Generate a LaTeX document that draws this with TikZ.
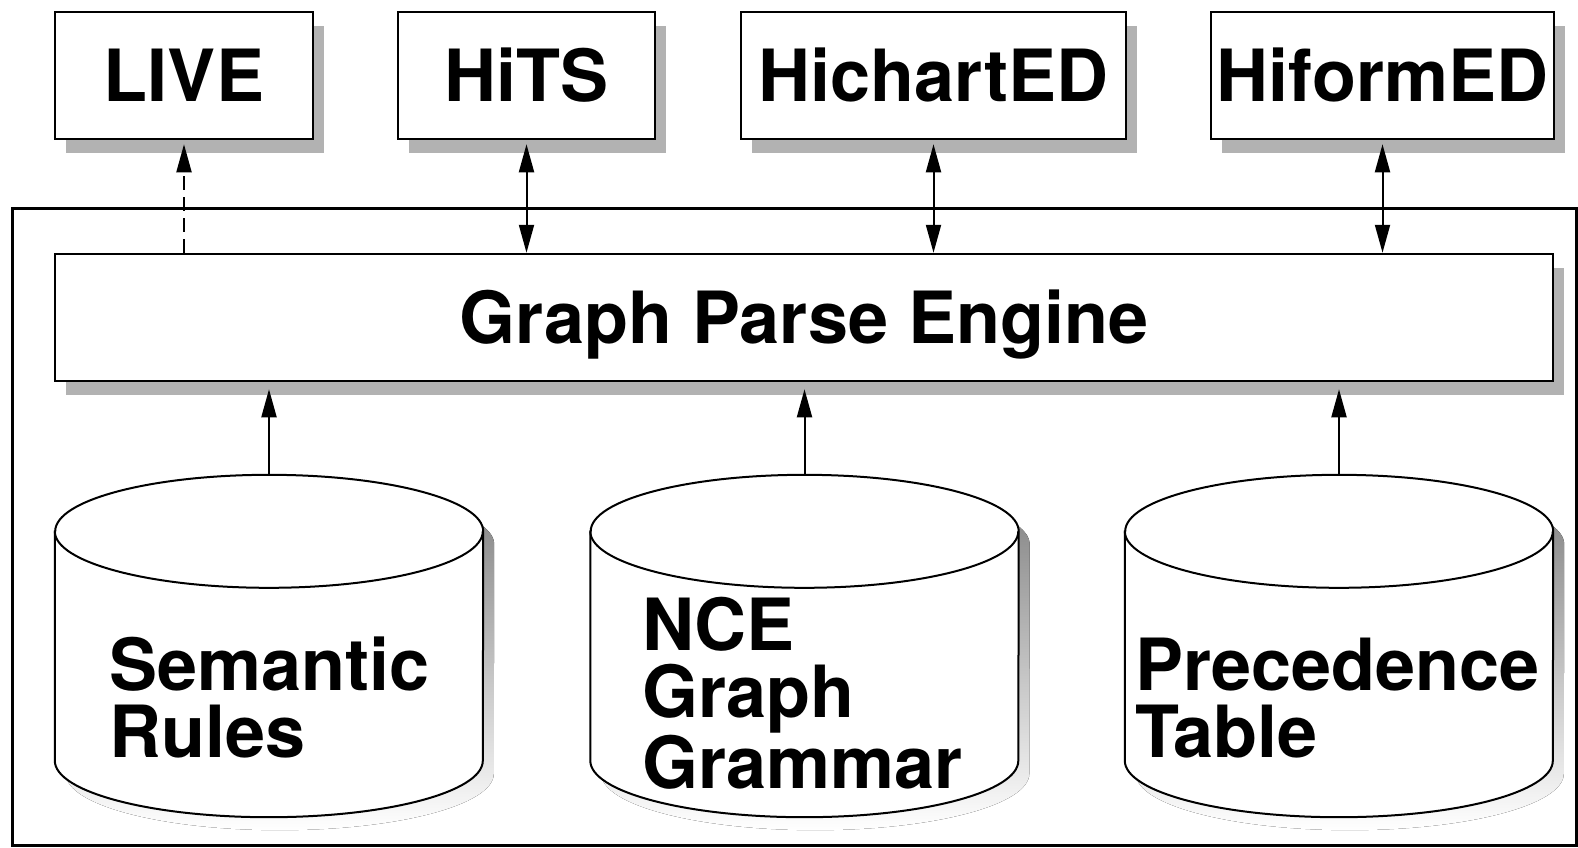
\documentclass[tikz,border=0pt]{standalone}
\usepackage{fontspec}
\setmainfont{TeX Gyre Heros}
\usetikzlibrary{arrows.meta,shadows,calc}
\definecolor{shade}{RGB}{178,178,178}

% outline of a drum (database cylinder) fitted to a named body node,
% optionally offset by (#2,#3)
\newcommand\drumpath[3]{($(#1.north west)+(#2,#3+56.5)$) -- ($(#1.south west)+(#2,#3-56.5)$)
  arc[start angle=180,end angle=360,x radius=214pt,y radius=56.5pt]
  -- ($(#1.north east)+(#2,#3+56.5)$)
  arc[start angle=0,end angle=180,x radius=214pt,y radius=56.5pt] -- cycle}
\newcommand\drumfront[1]{($(#1.north west)+(0,56.5)$)
  arc[start angle=180,end angle=360,x radius=214pt,y radius=56.5pt]}

\begin{document}
\begin{tikzpicture}[x=1pt,y=-1pt,
  lbl/.style={font=\fontsize{72}{67}\selectfont\bfseries},
  sbox/.style={draw, line width=2.5pt, fill=white, inner sep=0pt,
    minimum height=127pt, text height=51.7pt, text depth=0pt, lbl,
    drop shadow={shadow xshift=11pt, shadow yshift=-14pt, fill=shade, opacity=1}},
  link/.style={line width=2pt, -{Triangle[length=28pt,width=15pt]}},
  both/.style={line width=2pt, {Triangle[length=28pt,width=15pt]}-{Triangle[length=28pt,width=15pt]}},
  cylbody/.style={inner sep=0pt, minimum width=428pt, minimum height=342pt},
  cyltext/.style={lbl, align=left, anchor=base west, inner sep=0pt},
  drum/.style={fill=white, draw, line width=2pt}
]
\useasboundingbox (0,0) rectangle (1578,847);

% enclosing frame
\node[draw, line width=3pt, inner sep=0pt, minimum width=1564pt, minimum height=637pt]
  (frame) at (794,526.5) {};

% client tools
\node[sbox, minimum width=258pt] (live)    at (184,75.5)    {LIVE};
\node[sbox, minimum width=257pt] (hits)    at (526.5,75.5)  {HiTS};
\node[sbox, minimum width=385pt] (hichart) at (933.5,75.5)  {HichartED};
\node[sbox, minimum width=343pt] (hiform)  at (1382.5,75.5) {HiformED};

% parser
\node[sbox, minimum width=1498pt] (gpe) at (804,317.5) {Graph Parse Engine};

% data stores
\node[cylbody] (sem)  at (269,646)    {};
\node[cylbody] (nce)  at (804.5,646)  {};
\node[cylbody] (prec) at (1339,646)   {};

\foreach \d in {sem,nce,prec}{
  \fill[shade] \drumpath{\d}{11}{13};
  \path[drum] \drumpath{\d}{0}{0};
  \draw[line width=2pt] \drumfront{\d};
}

% base anchor sits on the last line of a multi-line label
\node[cyltext] (semtxt)  at (109,757)  {Semantic\\Rules};
\node[cyltext] (ncetxt)  at (642,788)  {NCE\\Graph\\Grammar};
\node[cyltext] (prectxt) at (1135,757) {Precedence\\Table};

% connectors
\draw[link, dash pattern=on 14pt off 7pt, shorten >=4pt] (gpe.north -| live.south) -- (live.south);
\draw[both, shorten <=4pt] (hits.south) -- (gpe.north -| hits.south);
\draw[both, shorten <=4pt] (hichart.south) -- (gpe.north -| hichart.south);
\draw[both, shorten <=4pt] (hiform.south) -- (gpe.north -| hiform.south);

\draw[link, shorten >=7pt] (sem.north)  -- (gpe.south -| sem.north);
\draw[link, shorten >=7pt] (nce.north)  -- (gpe.south -| nce.north);
\draw[link, shorten >=7pt] (prec.north) -- (gpe.south -| prec.north);
\end{tikzpicture}
\end{document}
